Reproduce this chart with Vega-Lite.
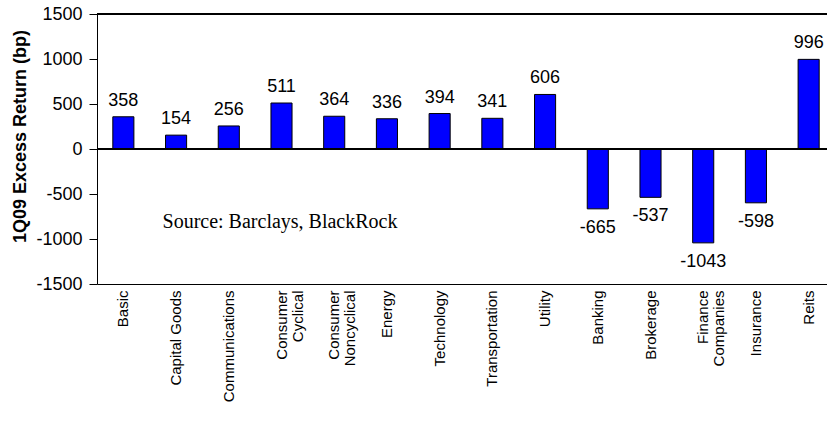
{
  "$schema": "https://vega.github.io/schema/vega-lite/v6.json",
  "width": 730,
  "height": 270,
  "autosize": {"type": "none"},
  "padding": {"left": 97, "top": 14, "right": 0, "bottom": 141},
  "background": "white",
  "config": {
    "view": {"stroke": null},
    "font": "Liberation Sans",
    "locale": {"number": {"decimal": ".", "thousands": ",", "grouping": [3], "currency": ["$", ""], "minus": "-"}},
    "axis": {"domainColor": "#000000", "tickColor": "#000000", "labelColor": "#000000", "titleColor": "#000000", "grid": false},
    "axisY": {
      "titleFontSize": 18,
      "titleFontWeight": "bold",
      "titlePadding": 6,
      "titleY": 122,
      "labelFontSize": 18,
      "labelPadding": 7,
      "tickSize": 8,
      "format": "d"
    }
  },
  "data": {
    "values": [
      {"sector": "Basic", "excess": 358},
      {"sector": "Capital Goods", "excess": 154},
      {"sector": "Communications", "excess": 256},
      {"sector": "Consumer Cyclical", "excess": 511},
      {"sector": "Consumer Noncyclical", "excess": 364},
      {"sector": "Energy", "excess": 336},
      {"sector": "Technology", "excess": 394},
      {"sector": "Transportation", "excess": 341},
      {"sector": "Utility", "excess": 606},
      {"sector": "Banking", "excess": -665},
      {"sector": "Brokerage", "excess": -537},
      {"sector": "Finance Companies", "excess": -1043},
      {"sector": "Insurance", "excess": -598},
      {"sector": "Reits", "excess": 996}
    ]
  },
  "layer": [
    {
      "mark": {"type": "bar", "fill": "#0000FF", "stroke": "#000000", "strokeWidth": 1},
      "encoding": {
        "x": {
          "field": "sector",
          "type": "nominal",
          "sort": null,
          "scale": {"range": [0, 738], "paddingInner": 0.6, "paddingOuter": 0.3},
          "axis": {
            "orient": "bottom",
            "title": null,
            "labelAngle": -90,
            "ticks": false,
            "domain": true,
            "labelFontSize": 15,
            "labelPadding": 6,
            "labelLineHeight": 16,
            "labelExpr": "indexof(datum.label, 'Consumer') == 0 || datum.label == 'Finance Companies' ? split(datum.label, ' ') : datum.label"
          }
        },
        "y": {
          "field": "excess",
          "type": "quantitative",
          "title": "1Q09 Excess Return (bp)",
          "scale": {"domain": [-1500, 1500], "nice": false, "zero": false},
          "axis": {"values": [-1500, -1000, -500, 0, 500, 1000, 1500]}
        }
      }
    },
    {
      "mark": {"type": "rule", "color": "#000000", "strokeWidth": 1},
      "encoding": {"y": {"datum": 0}}
    },
    {
      "mark": {"type": "rule", "color": "#000000", "strokeWidth": 1},
      "encoding": {"y": {"datum": 1500}}
    },
    {
      "transform": [{"filter": "datum.excess >= 0"}],
      "mark": {"type": "text", "fontSize": 18, "baseline": "alphabetic", "dy": -11, "color": "#000000"},
      "encoding": {
        "x": {"field": "sector", "type": "nominal", "sort": null, "axis": null},
        "y": {"field": "excess", "type": "quantitative", "title": "1Q09 Excess Return (bp)"},
        "text": {"field": "excess", "type": "quantitative"}
      }
    },
    {
      "transform": [{"filter": "datum.excess < 0"}],
      "mark": {"type": "text", "fontSize": 18, "baseline": "alphabetic", "dy": 24, "color": "#000000"},
      "encoding": {
        "x": {"field": "sector", "type": "nominal", "sort": null, "axis": null},
        "y": {"field": "excess", "type": "quantitative", "title": "1Q09 Excess Return (bp)"},
        "text": {"field": "excess", "type": "quantitative"}
      }
    },
    {
      "data": {"values": [{"note": "Source: Barclays, BlackRock"}]},
      "mark": {"type": "text", "font": "Liberation Serif", "fontSize": 20, "align": "left", "baseline": "alphabetic", "dx": -3, "color": "#000000"},
      "encoding": {
        "x": {"datum": "Capital Goods", "type": "nominal", "bandPosition": 0, "axis": null},
        "y": {"datum": -880},
        "text": {"field": "note"}
      }
    }
  ],
  "resolve": {"axis": {"x": "independent"}}
}
